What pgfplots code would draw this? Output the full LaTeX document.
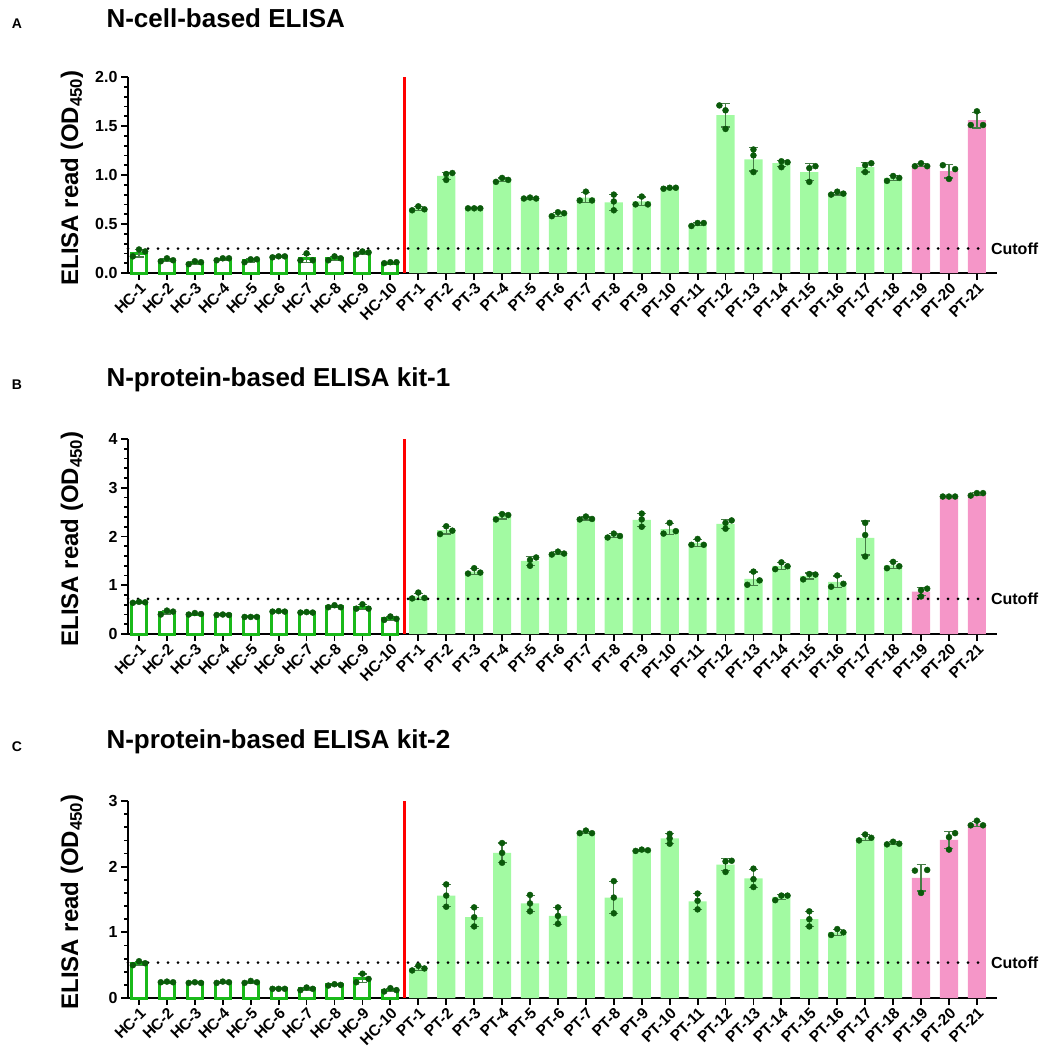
\documentclass[border=0pt]{standalone}
\usepackage{pgfplots}
\pgfplotsset{compat=1.18}
\usepackage{fontspec}
\setmainfont{Liberation Sans}
\definecolor{hcgreen}{RGB}{25,185,25}
\definecolor{ptgreen}{RGB}{162,250,162}
\definecolor{ptpink}{RGB}{245,150,200}
\definecolor{dotgreen}{RGB}{10,90,10}
\definecolor{errgreen}{RGB}{70,125,70}
\pgfplotsset{
  panel/.style={
    scale only axis, width=869pt,
    xmin=-0.394, xmax=30.72, ymin=0,
    axis x line*=bottom, axis y line*=left,
    axis line style={line width=2.4pt},
    tick align=outside, major tick length=7pt, minor tick length=4pt,
    every tick/.style={black, line width=1.8pt},
    minor y tick num=4,
    xtick={0,...,30},
    xticklabels={HC-1,HC-2,HC-3,HC-4,HC-5,HC-6,HC-7,HC-8,HC-9,HC-10,PT-1,PT-2,PT-3,PT-4,PT-5,PT-6,PT-7,PT-8,PT-9,PT-10,PT-11,PT-12,PT-13,PT-14,PT-15,PT-16,PT-17,PT-18,PT-19,PT-20,PT-21},
    tick label style={font=\bfseries\fontsize{16}{16}\selectfont},
    x tick label style={rotate=45, anchor=north east, inner sep=1pt, font=\bfseries\fontsize{15.5}{15.5}\selectfont},
    /pgf/number format/assume math mode=true,
    clip=false,
  },
  hcbar/.style={ybar, bar width=0.54, bar shift=0pt, fill=white, draw=hcgreen, line width=3pt,
    error bars/.cd, y dir=both, y explicit,
    error bar style={errgreen, line width=1.2pt},
    error mark options={rotate=90, mark size=4.5pt, errgreen, line width=1.2pt}},
  ptbar/.style={ybar, bar width=0.65, bar shift=0pt, fill=#1, draw=none,
    error bars/.cd, y dir=both, y explicit,
    error bar style={errgreen, line width=1.2pt},
    error mark options={rotate=90, mark size=4.5pt, errgreen, line width=1.2pt}},
  dots/.style={only marks, mark=*, mark size=3pt, color=dotgreen},
  cut/.style={black, line width=3pt, line cap=round, dash pattern=on 0pt off 10pt},
  redline/.style={red, line width=3pt},
}
\newcommand{\ttl}[1]{\bfseries\fontsize{26}{26}\selectfont #1}
\newcommand{\ylab}{\bfseries\fontsize{24}{24}\selectfont ELISA read (OD\textsubscript{450})}
\newcommand{\cutlab}{\bfseries\fontsize{16}{16}\selectfont Cutoff}
\begin{document}
\begin{tikzpicture}
\path[use as bounding box] (0pt,0pt) rectangle (1047pt,-1049pt);
% ---------------- Panel A
\node at (17pt,-24pt) {\bfseries\fontsize{14}{14}\selectfont A};
\node[anchor=west] at (103pt,-18pt) {\ttl{N-cell-based ELISA}};
\node[rotate=90] at (72pt,-178pt) {\ylab};
\begin{axis}[panel, height=196pt, ymax=2, ytick={0,0.5,1,1.5,2},
  yticklabel style={/pgf/number format/.cd, fixed, fixed zerofill, precision=1},
  at={(128pt,-273pt)}, anchor=south west]
\addplot[hcbar] coordinates {(0,0.20)+-(0,0.036) (1,0.13)+-(0,0.015) (2,0.10)+-(0,0.015) (3,0.14)+-(0,0.012) (4,0.13)+-(0,0.017) (5,0.17)+-(0,0.006) (6,0.15)+-(0,0.04) (7,0.15)+-(0,0.02) (8,0.20)+-(0,0.015) (9,0.10)+-(0,0.006)};
\addplot[ptbar=ptgreen] coordinates {(10,0.66)+-(0,0.02) (11,0.99)+-(0,0.035) (12,0.66)+-(0,0.005) (13,0.95)+-(0,0.02) (14,0.76)+-(0,0.01) (15,0.60)+-(0,0.02) (16,0.77)+-(0,0.05) (17,0.72)+-(0,0.08) (18,0.73)+-(0,0.045) (19,0.87)+-(0,0.006) (20,0.50)+-(0,0.017) (21,1.61)+-(0,0.12) (22,1.16)+-(0,0.12) (23,1.12)+-(0,0.03) (24,1.03)+-(0,0.09) (25,0.81)+-(0,0.015) (26,1.08)+-(0,0.05) (27,0.97)+-(0,0.025)};
\addplot[ptbar=ptpink] coordinates {(28,1.10)+-(0,0.017) (29,1.04)+-(0,0.07) (30,1.56)+-(0,0.08)};
\addplot[dots] coordinates {
(-0.22,0.17)(0,0.24)(0.22,0.22) (0.78,0.12)(1,0.15)(1.22,0.13) (1.78,0.09)(2,0.12)(2.22,0.11) (2.78,0.13)(3,0.15)(3.22,0.15) (3.78,0.11)(4,0.14)(4.22,0.14) (4.78,0.16)(5,0.17)(5.22,0.17) (5.78,0.13)(6,0.20)(6.22,0.13) (6.78,0.13)(7,0.17)(7.22,0.15) (7.78,0.19)(8,0.22)(8.22,0.21) (8.78,0.10)(9,0.11)(9.22,0.11)
(9.78,0.64)(10,0.68)(10.22,0.65) (11,0.95)(11,1.01)(11.22,1.02) (11.78,0.66)(12,0.66)(12.22,0.66) (12.78,0.93)(13,0.97)(13.22,0.95) (13.78,0.76)(14,0.77)(14.22,0.76) (14.78,0.58)(15,0.62)(15.22,0.61) (15.78,0.74)(16,0.83)(16.22,0.74) (17,0.80)(17,0.73)(17,0.64) (17.78,0.70)(18,0.78)(18.22,0.70) (18.78,0.86)(19,0.87)(19.22,0.87) (19.78,0.48)(20,0.51)(20.22,0.51) (20.78,1.71)(21,1.66)(21,1.47) (22,1.26)(22,1.20)(22,1.03) (23,1.08)(23,1.14)(23.22,1.13) (24,1.07)(24.22,1.09)(24,0.93) (24.78,0.80)(25,0.83)(25.22,0.81) (26,1.03)(26,1.10)(26.22,1.12) (26.78,0.94)(27,0.99)(27.22,0.97) (27.78,1.09)(28,1.12)(28.22,1.09) (28.78,1.10)(29,0.96)(29.22,1.06) (30,1.65)(29.78,1.51)(30.22,1.51)};
\addplot[redline] coordinates {(9.5,0) (9.5,2)};
\addplot[cut] coordinates {(-0.394,0.25) (30.36,0.25)};
\node[anchor=west, inner sep=0pt] at (axis cs:30.5,0.25) {\cutlab};
\end{axis}
% ---------------- Panel B
\node at (17pt,-385pt) {\bfseries\fontsize{14}{14}\selectfont B};
\node[anchor=west] at (103pt,-380pt) {\ttl{N-protein-based ELISA kit-1}};
\node[rotate=90] at (72pt,-539pt) {\ylab};
\begin{axis}[panel, height=195pt, ymax=4, ytick={0,1,2,3,4},
  at={(128pt,-634pt)}, anchor=south west]
\addplot[hcbar] coordinates {(0,0.65)+-(0,0.01) (1,0.45)+-(0,0.04) (2,0.41)+-(0,0.015) (3,0.39)+-(0,0.01) (4,0.35)+-(0,0.005) (5,0.46)+-(0,0.006) (6,0.44)+-(0,0.006) (7,0.56)+-(0,0.02) (8,0.55)+-(0,0.05) (9,0.32)+-(0,0.035)};
\addplot[ptbar=ptgreen] coordinates {(10,0.77)+-(0,0.065) (11,2.13)+-(0,0.08) (12,1.28)+-(0,0.06) (13,2.42)+-(0,0.06) (14,1.50)+-(0,0.09) (15,1.66)+-(0,0.03) (16,2.37)+-(0,0.03) (17,2.02)+-(0,0.04) (18,2.34)+-(0,0.135) (19,2.15)+-(0,0.115) (20,1.87)+-(0,0.07) (21,2.26)+-(0,0.09) (22,1.13)+-(0,0.14) (23,1.40)+-(0,0.07) (24,1.19)+-(0,0.06) (25,1.07)+-(0,0.12) (26,1.97)+-(0,0.35) (27,1.41)+-(0,0.07)};
\addplot[ptbar=ptpink] coordinates {(28,0.87)+-(0,0.085) (29,2.82)+-(0,0.005) (30,2.87)+-(0,0.03)};
\addplot[dots] coordinates {
(-0.22,0.64)(0,0.66)(0.22,0.65) (0.78,0.40)(1,0.48)(1.22,0.46) (1.78,0.40)(2,0.43)(2.22,0.41) (2.78,0.39)(3,0.40)(3.22,0.39) (3.78,0.35)(4,0.35)(4.22,0.35) (4.78,0.46)(5,0.47)(5.22,0.46) (5.78,0.44)(6,0.45)(6.22,0.44) (6.78,0.55)(7,0.59)(7.22,0.55) (7.78,0.52)(8,0.61)(8.22,0.52) (8.78,0.29)(9,0.36)(9.22,0.31)
(9.78,0.73)(10,0.85)(10.22,0.74) (10.78,2.05)(11,2.21)(11.22,2.12) (11.78,1.24)(12,1.35)(12.22,1.26) (12.78,2.35)(13,2.46)(13.22,2.44) (14,1.40)(14,1.52)(14.22,1.57) (14.78,1.63)(15,1.69)(15.22,1.65) (15.78,2.35)(16,2.41)(16.22,2.36) (16.78,1.98)(17,2.06)(17.22,2.01) (18,2.47)(18,2.35)(18,2.20) (18.78,2.06)(19,2.28)(19.22,2.11) (19.78,1.83)(20,1.95)(20.22,1.83) (21,2.16)(21,2.28)(21.22,2.33) (21.78,1.01)(22,1.28)(22.22,1.10) (22.78,1.33)(23,1.47)(23.22,1.39) (23.78,1.12)(24,1.23)(24.22,1.22) (24.78,0.97)(25,1.20)(25.22,1.03) (26,1.59)(26,2.03)(26,2.28) (26.78,1.35)(27,1.48)(27.22,1.39) (28,0.77)(28,0.90)(28.22,0.93) (28.78,2.82)(29,2.82)(29.22,2.82) (29.78,2.84)(30,2.89)(30.22,2.89)};
\addplot[redline] coordinates {(9.5,0) (9.5,4)};
\addplot[cut] coordinates {(-0.394,0.72) (30.36,0.72)};
\node[anchor=west, inner sep=0pt] at (axis cs:30.5,0.72) {\cutlab};
\end{axis}
% ---------------- Panel C
\node at (17pt,-747pt) {\bfseries\fontsize{14}{14}\selectfont C};
\node[anchor=west] at (103pt,-742pt) {\ttl{N-protein-based ELISA kit-2}};
\node[rotate=90] at (72pt,-902pt) {\ylab};
\begin{axis}[panel, height=197pt, ymax=3, ytick={0,1,2,3},
  at={(128pt,-998pt)}, anchor=south west]
\addplot[hcbar] coordinates {(0,0.53)+-(0,0.03) (1,0.24)+-(0,0.006) (2,0.23)+-(0,0.006) (3,0.24)+-(0,0.01) (4,0.24)+-(0,0.015) (5,0.14)+-(0,0.003) (6,0.14)+-(0,0.02) (7,0.20)+-(0,0.01) (8,0.30)+-(0,0.065) (9,0.12)+-(0,0.025)};
\addplot[ptbar=ptgreen] coordinates {(10,0.45)+-(0,0.035) (11,1.56)+-(0,0.17) (12,1.23)+-(0,0.145) (13,2.21)+-(0,0.15) (14,1.44)+-(0,0.125) (15,1.25)+-(0,0.125) (16,2.52)+-(0,0.02) (17,1.53)+-(0,0.245) (18,2.25)+-(0,0.01) (19,2.43)+-(0,0.075) (20,1.47)+-(0,0.12) (21,2.03)+-(0,0.09) (22,1.82)+-(0,0.14) (23,1.54)+-(0,0.04) (24,1.20)+-(0,0.115) (25,1.00)+-(0,0.045) (26,2.44)+-(0,0.045) (27,2.36)+-(0,0.02)};
\addplot[ptbar=ptpink] coordinates {(28,1.83)+-(0,0.2) (29,2.41)+-(0,0.13) (30,2.65)+-(0,0.04)};
\addplot[dots] coordinates {
(-0.22,0.50)(0,0.56)(0.22,0.53) (0.78,0.24)(1,0.25)(1.22,0.24) (1.78,0.23)(2,0.24)(2.22,0.23) (2.78,0.23)(3,0.25)(3.22,0.24) (3.78,0.23)(4,0.26)(4.22,0.24) (4.78,0.14)(5,0.14)(5.22,0.14) (5.78,0.12)(6,0.16)(6.22,0.14) (6.78,0.19)(7,0.21)(7.22,0.20) (7.78,0.24)(8,0.37)(8.22,0.29) (8.78,0.10)(9,0.15)(9.22,0.12)
(9.78,0.42)(10,0.49)(10.22,0.45) (11,1.73)(11,1.56)(11,1.39) (12,1.38)(12,1.23)(12,1.09) (13,2.36)(13,2.21)(13,2.06) (14,1.57)(14,1.44)(14,1.32) (15,1.38)(15,1.25)(15,1.13) (15.78,2.51)(16,2.55)(16.22,2.51) (17,1.78)(17,1.53)(17,1.29) (17.78,2.24)(18,2.26)(18.22,2.25) (19,2.50)(19,2.43)(19,2.35) (20,1.59)(20,1.48)(20,1.35) (21,2.08)(21.22,2.09)(21,1.92) (22,1.97)(22,1.81)(22,1.69) (22.78,1.49)(23,1.56)(23.22,1.56) (24,1.32)(24,1.20)(24,1.09) (24.78,0.96)(25,1.05)(25.22,1.00) (25.78,2.40)(26,2.49)(26.22,2.44) (26.78,2.34)(27,2.38)(27.22,2.35) (27.78,1.94)(28,1.60)(28.22,1.95) (29,2.45)(29,2.26)(29.22,2.51) (29.78,2.63)(30,2.70)(30.22,2.63)};
\addplot[redline] coordinates {(9.5,0) (9.5,3)};
\addplot[cut] coordinates {(-0.394,0.54) (30.36,0.54)};
\node[anchor=west, inner sep=0pt] at (axis cs:30.5,0.54) {\cutlab};
\end{axis}
\end{tikzpicture}
\end{document}
